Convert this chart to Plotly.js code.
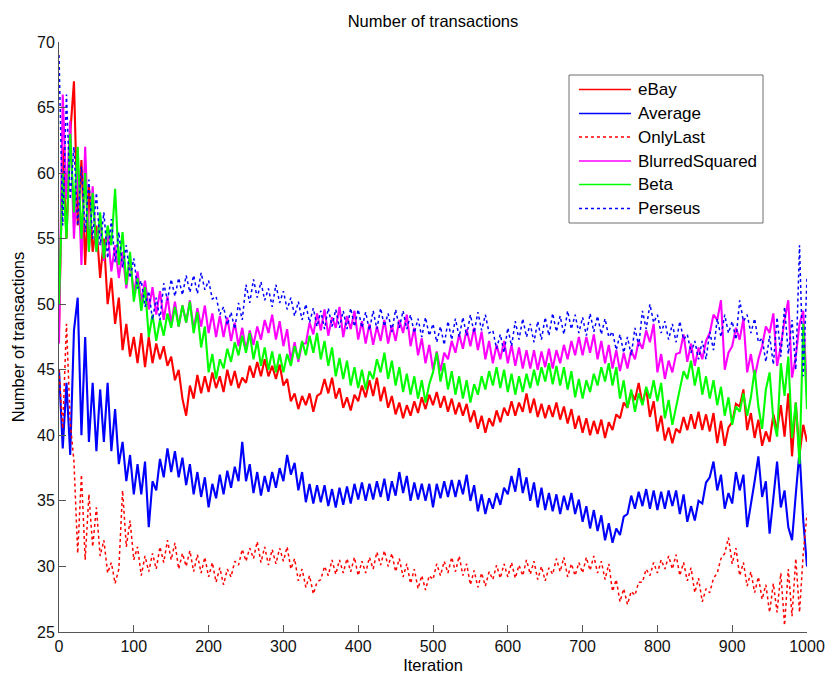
<!DOCTYPE html>
<html>
<head>
<meta charset="utf-8">
<script src="https://cdn.plot.ly/plotly-3.0.1.min.js"></script>
<style>html,body{margin:0;padding:0;background:#fff;}</style>
</head>
<body>
<div id="chart" style="width:830px;height:677px;"></div>
<script>
// Number of transactions per iteration for each reputation model,
// sampled every 5 iterations (0, 5, 10, ..., 1000).
const iterStep = 5;

const ebay = [
  48, 62, 55, 63, 67, 56, 61, 53, 59, 54,
  56, 52, 55, 50, 52, 48.5, 50.5, 46.5, 48.5, 46,
  47.5, 45.5, 47.8, 45.2, 47.5, 45.5, 47, 45.8, 46.8, 45.3,
  46, 44.2, 45, 42.8, 41.5, 43.8, 42.8, 44.6, 43.2, 44.5,
  43.3, 44.8, 43.6, 44.5, 43.3, 45, 43.8, 44.9, 43.6, 44.4,
  44, 45.3, 44.4, 45.6, 44.5, 45.8, 44.5, 45.3, 44.3, 45.4,
  43.8, 44.3, 42.6, 43.2, 42, 43, 42.3, 43.2, 41.8, 43,
  43.2, 44.3, 43.2, 44.4, 42.8, 43.6, 42.1, 42.9, 41.9, 43.1,
  42.6, 43.8, 42.9, 44.2, 43, 44.4, 42.6, 43.7, 42.1, 43,
  41.6, 42.5, 41.3, 42.3, 41.5, 42.6, 41.7, 42.9, 42, 43.1,
  42.3, 43.3, 42.1, 43, 41.8, 42.8, 41.6, 42.5, 41.5, 42.4,
  41, 41.9, 40.5, 41.5, 40.2, 41.3, 40.7, 41.9, 41, 42.1,
  41.5, 42.6, 41.5, 42.5, 41.8, 43.2, 41.7, 42.8, 41.4, 42.4,
  41.3, 42.3, 41.4, 42.5, 41.2, 42.2, 40.9, 42, 40.5, 41.5,
  40.2, 41.3, 40, 41.1, 40.1, 41.2, 39.8, 41, 40.4, 41.6,
  41.3, 42.5, 42.1, 43.3, 42.7, 44, 42.4, 43.6, 41.4, 42.6,
  40.3, 41.5, 39.6, 40.6, 39.4, 40.5, 40.2, 41.4, 40.4, 41.6,
  40.5, 41.8, 40.4, 41.6, 40.3, 41.7, 39.4, 41.1, 39.2, 40.6,
  41, 42.4, 42.2, 43.5, 40.4, 41.7, 39.8, 41.2, 39.2, 40.3,
  39.5, 41.6, 40.4, 42.3, 39.9, 43.2, 38.4, 42.5, 38.5, 40.8,
  39.5
];

const average = [
  45, 39, 44, 38.5, 48, 50.5, 40, 47.5, 39.5, 44,
  38.8, 43.5, 39.5, 44, 38.8, 42, 37.8, 39.5, 36.5, 38.5,
  35.5, 37.8, 35.5, 38, 33, 36.5, 35.8, 38.2, 36.8, 39,
  37.2, 38.8, 36.8, 38.3, 36.2, 37.8, 35.5, 37.2, 35.3, 36.8,
  34.5, 36.3, 35.2, 37, 35.5, 37.3, 36, 37.6, 36.5, 39.5,
  36.5, 37.8, 35.6, 37.2, 35.4, 36.9, 35.7, 37.2, 36, 37.5,
  36.5, 38.5, 37, 37.9, 35.8, 37.2, 34.9, 36.3, 34.8, 36.2,
  34.9, 36.2, 34.6, 35.9, 34.5, 36, 34.7, 36.1, 34.8, 36.3,
  35.1, 36.4, 35, 36.3, 35.1, 36.5, 35.3, 36.7, 35, 36.5,
  35.4, 37.2, 35.6, 36.9, 35, 36.4, 35.1, 36.3, 35, 36.3,
  34.5, 36.3, 35.2, 36.5, 35.3, 36.6, 35.3, 36.6, 35.5, 37,
  35, 36.2, 34.2, 35.5, 34, 35.2, 34.4, 35.6, 34.7, 36,
  35.5, 36.9, 35.7, 37.5, 35.6, 36.8, 35, 36.4, 34.5, 36,
  34.3, 35.6, 34.2, 35.5, 34, 35.4, 34.3, 35.6, 34, 35.1,
  33.4, 34.6, 32.9, 34.3, 32.7, 33.9, 32, 33.3, 31.8, 32.9,
  32.4, 33.8, 34, 35.4, 34.4, 35.7, 34.6, 35.9, 34.4, 35.8,
  34.3, 35.7, 34.4, 35.8, 34.6, 35.8, 34, 35.5, 33.4, 34.6,
  33.5, 35, 34.8, 36.4, 36.8, 38, 35.8, 37, 34.4, 35.6,
  34.8, 37.2, 35.8, 37, 33, 34.6, 36.5, 38.4, 35.3, 36.5,
  32.5, 35.2, 38, 34.5, 35.8, 33, 32, 35.5, 38.8, 33.5,
  30
];

const onlyLast = [
  45, 40.5, 48.5, 41, 38, 31, 37, 30.5, 35.5, 31.5,
  34.5, 30.8, 32, 29.5, 30.3, 28.7, 29.8, 35.8, 31.5, 33.5,
  30.5, 31.5, 29.3, 30.8, 29.6, 31, 29.8, 31.5, 30.3, 32,
  30.5, 31.8, 29.8, 31, 30, 31.2, 29.6, 30.9, 29.5, 30.7,
  29.2, 30.3, 28.8, 29.9, 28.6, 29.8, 29.2, 30.4, 30.1, 31.3,
  30.4, 31.4, 30.6, 31.9, 30.3, 31.5, 30.1, 31.3, 30.2, 31.4,
  30.4, 31.5, 29.8, 30.6, 28.9, 29.8, 28.4, 29.3, 27.9, 28.8,
  29, 30, 29.3, 30.5, 29.4, 30.5, 29.5, 30.6, 29.6, 30.7,
  29.3, 30.4, 29.5, 30.7, 29.8, 31.1, 30.1, 31.2, 30, 31,
  29.6, 30.6, 29.2, 30.2, 28.7, 29.8, 28.3, 29.3, 28.2, 29.3,
  29, 30.2, 29.3, 30.4, 29.5, 30.7, 29.6, 30.8, 29.3, 30.2,
  28.6, 29.7, 28.4, 29.5, 28.5, 29.6, 29, 30.1, 29.1, 30.2,
  29.2, 30.3, 29.1, 30.1, 29.3, 30.5, 29.4, 30.4, 29, 30,
  28.9, 29.9, 29.4, 30.6, 29.6, 30.7, 29.2, 30.2, 29.3, 30.3,
  29.5, 30.7, 29.7, 30.8, 29.5, 30.4, 29, 30.2, 28.1, 29,
  27.3, 28.3, 27.1, 28.1, 27.8, 28.8, 28.8, 29.8, 29.3, 30.3,
  29.5, 30.5, 29.8, 30.8, 29.8, 30.9, 29.3, 30.3, 28.9, 29.9,
  28, 29.1, 27.3, 28.3, 28, 29.1, 29.5, 30.6, 31, 32.2,
  30.2, 31.4, 29.3, 30.3, 28.5, 29.6, 28, 29.2, 27.5, 28.6,
  26.5, 28.7, 26.5, 29.5, 25.5, 29.8, 26.2, 30.6, 26.5, 31,
  34
];

const blurredSquared = [
  47, 66, 58, 64, 55, 61, 53, 62, 54, 59,
  54, 56.5, 53.3, 55.5, 52.5, 54.5, 52, 54, 51.2, 53.5,
  50.8, 52.5, 50.2, 51.8, 49.6, 51.3, 49.2, 51, 48.8, 50.6,
  48.5, 50.2, 48.3, 49.9, 48.6, 50.3, 48.1, 49.7, 48.3, 49.9,
  47.8, 49.3, 47.5, 49.1, 47.5, 49, 47.2, 48.6, 46.8, 48.2,
  46.5, 48, 46.9, 48.3, 47.3, 48.8, 47.8, 49.2, 47.3, 48.7,
  46.8, 48.1, 45.7, 47.1, 45.6, 47, 47, 48.6, 47.7, 49.3,
  48, 49.6, 47.6, 49, 48.2, 49.8, 47.5, 49.1, 48.1, 49.5,
  47.3, 48.7, 47, 48.5, 46.9, 48.3, 47.2, 48.8, 47, 48.4,
  47.2, 48.8, 47.8, 49.2, 46.8, 48.2, 46.1, 47.4, 45.5, 46.9,
  45, 46.4, 44.9, 46.3, 45.8, 47.2, 46.3, 47.7, 46.6, 48.1,
  46.8, 48.2, 46.5, 47.9, 45.8, 47.2, 45.5, 46.9, 45.8, 47.2,
  45.5, 46.9, 45.3, 46.7, 45.1, 46.5, 45.1, 46.5, 45, 46.4,
  45.2, 46.6, 45.1, 46.5, 45.5, 46.9, 45.8, 47.2, 46.1, 47.5,
  46.1, 47.5, 46.3, 47.7, 45.8, 47.2, 45.5, 46.9, 45.1, 46.5,
  44.9, 46.3, 45.1, 46.5, 45.8, 47.2, 46.6, 48, 47.1, 48.5,
  44.8, 46.2, 44.3, 45.7, 44.8, 46.2, 46.3, 47.7, 45.6, 47,
  45.3, 46.7, 45.8, 47.2, 47.8, 49.2, 48.8, 50.3, 45, 46.3,
  46.8, 48.2, 47.3, 48.9, 44.8, 46.2, 44.4, 45.8, 46.8, 48.3,
  47.8, 49.3, 45.3, 46.8, 48.8, 50.3, 44.4, 46, 48.5, 49.5,
  43
];

const beta = [
  50, 60, 55, 63, 57, 62, 55, 60, 54, 58.5,
  54, 57, 53.5, 56, 54.5, 58.8, 53, 55.5, 51.5, 54,
  50.2, 52, 49.5, 51.3, 47.5, 49.2, 47.2, 48.8, 47.6, 49.3,
  48.2, 49.8, 48.3, 49.9, 48.6, 50.2, 47.8, 49.4, 46.7, 48.3,
  44.8, 46.2, 44.3, 45.8, 45.1, 46.6, 45.6, 47.1, 46.1, 47.6,
  46.3, 47.8, 45.8, 47.2, 45.3, 46.7, 45, 46.4, 44.8, 46.2,
  44.8, 46.2, 45.3, 46.8, 45.8, 47.2, 46.1, 47.6, 46.3, 47.8,
  45.8, 47.2, 45.3, 46.7, 44.5, 45.9, 44.3, 45.7, 43.8, 45.2,
  43.6, 45, 43.5, 44.9, 44.3, 45.8, 44.8, 46.3, 44.3, 45.7,
  43.8, 45.2, 43.3, 44.7, 43.1, 44.5, 42.8, 44.2, 42.5, 43.9,
  44.8, 46.3, 44.1, 45.5, 43.5, 44.9, 43.1, 44.5, 42.8, 44.2,
  42.5, 43.9, 43.1, 44.5, 43.5, 44.9, 43.8, 45.2, 43.6, 45,
  43.3, 44.7, 43.1, 44.5, 43.3, 44.7, 43.6, 45, 43.8, 45.2,
  44.1, 45.5, 43.9, 45.3, 43.8, 45.2, 43.5, 44.9, 42.9, 44.3,
  42.8, 44.2, 43.3, 44.7, 43.8, 45.2, 44.1, 45.5, 43.8, 45.2,
  42.8, 44.2, 42.1, 43.5, 41.8, 43.2, 42.3, 43.7, 42.8, 44.2,
  42.6, 44, 41.3, 42.7, 40.8, 42.2, 43.5, 44.9, 44.3, 45.7,
  43.8, 45.2, 43.1, 44.5, 42.8, 44.2, 42.3, 43.7, 41.5, 42.9,
  40.8, 42.2, 41.8, 43.2, 41.5, 42.9, 45, 42.2, 40.5, 43.5,
  44.8, 41.2, 39.9, 45.5, 43, 46, 39.8, 42.5, 37.8, 48.5,
  42
];

const perseus = [
  69, 56, 66, 58, 62, 56, 60.5, 55.5, 59.5, 55,
  58.5, 54.5, 57, 53.5, 56.5, 53.2, 55.5, 52.8, 54.5, 52,
  53.5, 51.2, 51.8, 49.8, 51, 48.8, 50.5, 48.8, 51.6, 50.3,
  51.9, 50.6, 52, 50.7, 52.2, 50.9, 52.2, 50.8, 52.4, 51.1,
  51.8, 50.4, 50.6, 49.2, 49.8, 48.4, 49.4, 48.1, 50.1, 48.8,
  51.5, 50.1, 51.9, 50.5, 51.7, 50.3, 51.2, 49.8, 51.5, 50.1,
  51, 49.6, 50.5, 49.1, 50.2, 48.8, 50, 48.6, 49.7, 48.3,
  49.5, 48.1, 49.7, 48.3, 49.6, 48.2, 49.5, 48.1, 49.7, 48.3,
  49.6, 48.2, 49.4, 48, 49.5, 48.1, 49.7, 48.3, 49.3, 47.9,
  49.6, 48.2, 49.5, 48.1, 49.2, 47.8, 48.9, 47.5, 49, 47.6,
  48.5, 47.1, 48.3, 46.9, 48.7, 47.3, 48.9, 47.5, 49, 47.6,
  49.2, 47.8, 49.4, 48, 49.2, 47.8, 48, 46.6, 47.7, 46.3,
  48.2, 46.8, 48.7, 47.3, 48.9, 47.5, 48.5, 47.1, 48.7, 47.3,
  49, 47.6, 49.3, 47.9, 49.1, 47.7, 49.5, 48.1, 49.2, 47.8,
  49, 47.6, 49.3, 47.9, 49.1, 47.7, 48.9, 47.5, 47.9, 46.5,
  47.7, 46.3, 47.5, 46.1, 48.2, 46.8, 49.5, 48.1, 50, 48.6,
  49.2, 47.8, 48.7, 47.3, 48.5, 47.1, 48.7, 47.3, 47.7, 46.3,
  47.2, 45.8, 47.2, 45.8, 47.9, 46.5, 48.9, 47.5, 49.2, 47.8,
  48.7, 47.3, 50.3, 48.7, 49.2, 47.8, 48.9, 47.1, 47.4, 45.6,
  47.6, 45.4, 49, 46, 49.8, 46.2, 48.8, 45, 54.5, 44.5,
  52
];

const seriesNames = ['eBay', 'Average', 'OnlyLast', 'BlurredSquared', 'Beta', 'Perseus'];
const seriesValues = [ebay, average, onlyLast, blurredSquared, beta, perseus];
const seriesColors = ['#ff0000', '#0000ff', '#ff0000', '#ff00ff', '#00ff00', '#0000ff'];
const seriesDash = ['solid', 'solid', 'dot', 'solid', 'solid', 'dot'];

const iterations = ebay.map((_, i) => i * iterStep);

const FONT = 'Liberation Sans, Arial, Helvetica, sans-serif';
const widthFor = k => (seriesDash[k] === 'dot' ? 1.5 : 2.1);

const traces = seriesValues.map((vals, k) => ({
  type: 'scatter',
  mode: 'lines',
  name: seriesNames[k],
  x: iterations,
  y: vals,
  line: {color: seriesColors[k], width: widthFor(k), dash: seriesDash[k]},
  showlegend: false,
  hoverinfo: 'skip'
}));

// Plot area in pixels: x 59..807, y 42..632
const plotL = 59, plotR = 807, plotT = 42, plotB = 632;
const px2x = px => (px - plotL) / (plotR - plotL);
const px2y = py => (plotB - py) / (plotB - plotT);

// Boxed legend drawn in paper coordinates
const legendBox = {x0: 569, x1: 763, y0: 75, y1: 223};
const legendRowY = [89.5, 113.5, 137, 161, 184.5, 208.5];
const shapes = [{
  type: 'rect', xref: 'paper', yref: 'paper',
  x0: px2x(legendBox.x0), x1: px2x(legendBox.x1),
  y0: px2y(legendBox.y1), y1: px2y(legendBox.y0),
  line: {color: '#6e6e6e', width: 1}, fillcolor: '#ffffff', layer: 'above'
}];
const annotations = [];
seriesNames.forEach((nm, k) => {
  const yy = px2y(legendRowY[k]);
  shapes.push({
    type: 'line', xref: 'paper', yref: 'paper',
    x0: px2x(579), x1: px2x(631), y0: yy, y1: yy,
    line: {color: seriesColors[k], width: seriesDash[k] === 'dot' ? 1.3 : 1.7, dash: seriesDash[k]},
    layer: 'above'
  });
  annotations.push({
    xref: 'paper', yref: 'paper', x: px2x(636), y: yy,
    xanchor: 'left', yanchor: 'middle', showarrow: false,
    text: nm, font: {family: FONT, size: 17, color: '#000'}
  });
});

const axisCommon = {
  showline: true, linecolor: '#555555', linewidth: 1,
  ticks: 'inside', ticklen: 7, tickcolor: '#555555', tickwidth: 1,
  showgrid: false, zeroline: false, mirror: false,
  tickfont: {family: FONT, size: 16, color: '#111'}
};

const layout = {
  width: 830, height: 677,
  margin: {l: plotL, r: 830 - plotR, t: plotT, b: 677 - plotB},
  paper_bgcolor: '#ffffff', plot_bgcolor: '#ffffff',
  font: {family: FONT, color: '#000'},
  title: {
    text: 'Number of transactions',
    font: {family: FONT, size: 16.5, color: '#000'},
    x: 0.5, xref: 'paper', xanchor: 'center',
    y: 1 - 21 / 677, yref: 'container', yanchor: 'middle'
  },
  xaxis: Object.assign({}, axisCommon, {
    range: [0, 1000], tickmode: 'linear', tick0: 0, dtick: 100,
    title: {text: 'Iteration', font: {family: FONT, size: 16.5, color: '#000'}, standoff: 5}
  }),
  yaxis: Object.assign({}, axisCommon, {
    range: [25, 70], tickmode: 'linear', tick0: 25, dtick: 5,
    title: {text: 'Number of transactions', font: {family: FONT, size: 16.5, color: '#000'}, standoff: 8}
  }),
  shapes: shapes,
  annotations: annotations,
  showlegend: false
};

Plotly.newPlot('chart', traces, layout, {displayModeBar: false, staticPlot: true});
</script>
</body>
</html>
